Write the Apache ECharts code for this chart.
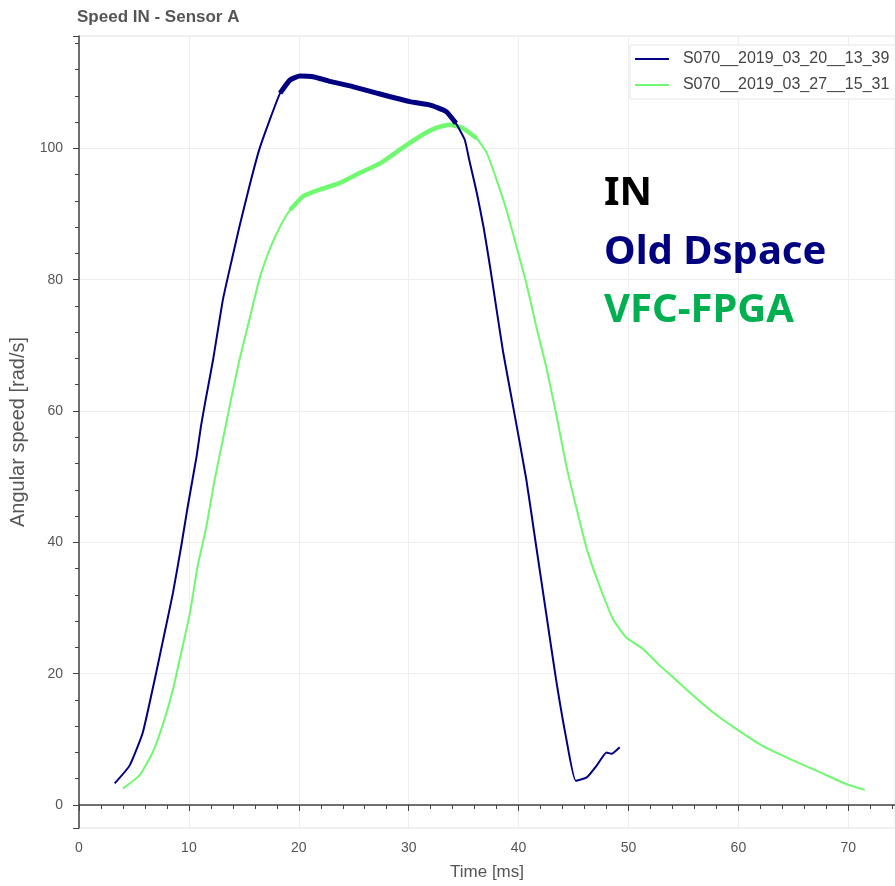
<!DOCTYPE html>
<html>
<head>
<meta charset="utf-8">
<title>Speed IN - Sensor A</title>
<script src="https://cdn.jsdelivr.net/npm/echarts@6/dist/echarts.min.js"></script>
<style>
  html, body { margin: 0; padding: 0; background: #fff; }
  #main { width: 895px; height: 886px; }
</style>
</head>
<body>
<div id="main"></div>
<script>
// Old Dspace run
var timeOld = [3.25, 4.6, 5.8, 6.9, 7.8, 8.55, 9.3, 9.9, 10.7, 11.1, 11.5, 12.2, 13.1, 13.9, 14.6,
  15.5, 16.4, 17.35, 18.3, 19.2, 20.1, 21.3, 22.8, 24.9, 27.1, 30.1, 31.9, 33.4, 34.3, 35.1, 35.5,
  36.2, 36.8, 37.4, 38.0, 38.6, 39.5, 40.7, 41.6, 42.5, 43.4, 44.35, 45.2, 46.2, 47.1, 48.0, 48.45, 49.2];
var speedOld = [3.3, 6.0, 11.0, 19.2, 26.3, 32.3, 39.4, 45.5, 53.1, 57.7, 61.5, 67.8, 77.0, 83.0, 88.1,
  94.2, 99.8, 104.3, 108.4, 110.4, 111.0, 110.9, 110.2, 109.4, 108.4, 107.1, 106.6, 105.6, 103.8, 101.3, 98.3,
  93.2, 88.1, 82.0, 75.4, 68.9, 60.7, 49.6, 39.4, 29.3, 19.2, 10.0, 3.7, 4.2, 6.0, 8.0, 7.8, 8.8];

// VFC-FPGA run
var timeNew = [4.0, 5.5, 6.7, 7.6, 8.55, 9.3, 10.1, 10.8, 11.6, 12.35, 13.1, 13.8, 14.6, 15.5, 16.4, 17.35,
  18.3, 19.2, 20.4, 21.9, 23.7, 25.5, 27.4, 29.2, 31.0, 32.5, 33.7, 34.9, 36.2, 37.1, 38.0, 38.9,
  39.8, 40.7, 41.6, 42.5, 43.4, 44.35, 45.25, 46.2, 47.4, 48.6, 49.8, 51.3, 52.8, 53.75, 55.6, 57.7,
  59.8, 62.2, 64.7, 67.4, 69.8, 71.5];
var speedNew = [2.5, 4.5, 8.0, 12.1, 17.6, 23.2, 29.3, 36.4, 42.5, 49.6, 55.7, 61.5, 67.8, 73.9, 80.0, 84.6,
  88.1, 90.6, 92.7, 93.7, 94.7, 96.2, 97.7, 99.8, 101.8, 103.1, 103.6, 103.1, 101.5, 99.3, 95.2, 90.6,
  85.1, 79.5, 72.9, 66.8, 59.7, 51.6, 45.3, 39.0, 33.2, 28.3, 25.5, 23.8, 21.3, 19.9, 17.1, 14.1,
  11.6, 9.0, 7.0, 5.0, 3.2, 2.3];

var seriesNames = ['S070__2019_03_20__13_39', 'S070__2019_03_27__15_31'];
var noteLines = ['IN', 'Old Dspace', 'VFC-FPGA'];

function pairs(xs, ys, lo, hi) {
  var out = [];
  for (var i = 0; i < xs.length; i++) {
    if (xs[i] >= lo && xs[i] <= hi) out.push([xs[i], ys[i]]);
  }
  return out;
}

var chart = echarts.init(document.getElementById('main'));

var axisGray = '#444';
var font = 'Liberation Sans, Arial, sans-serif';
var noteFont = 'bold 40px "Noto Sans", "DejaVu Sans", sans-serif';

var option = {
  animation: false,
  textStyle: { fontFamily: font },
  title: {
    text: 'Speed IN - Sensor A',
    left: 77,
    top: 9,
    padding: 0,
    textStyle: { fontSize: 17, fontWeight: 'bold', color: '#555', fontFamily: font }
  },
  grid: {
    left: 79,
    right: 0,
    top: 36,
    bottom: 57,
    show: true,
    borderColor: '#e5e5e5',
    backgroundColor: 'transparent'
  },
  legend: {
    data: seriesNames,
    orient: 'vertical',
    left: 630,
    top: 45,
    padding: [6, 12, 6, 5],
    icon: 'rect',
    itemWidth: 34,
    itemHeight: 2,
    itemGap: 10,
    formatter: '  {name}',
    backgroundColor: '#fff',
    borderColor: '#e5e5e5',
    borderWidth: 1,
    textStyle: { fontSize: 16, color: '#444', fontFamily: font, lineHeight: 16 }
  },
  xAxis: {
    type: 'value',
    min: 0,
    max: 74.25,
    interval: 10,
    name: 'Time [ms]',
    nameLocation: 'middle',
    nameGap: 36,
    nameTextStyle: { fontSize: 17, color: '#555', fontFamily: font },
    axisLine: { lineStyle: { color: axisGray, width: 1.5 } },
    axisTick: { length: 6, lineStyle: { color: axisGray } },
    minorTick: { show: true, splitNumber: 5, length: 4, lineStyle: { color: axisGray } },
    axisLabel: { fontSize: 14, color: '#555', margin: 13, showMaxLabel: false },
    splitLine: { show: true, lineStyle: { color: '#eeeeee' } }
  },
  yAxis: {
    type: 'value',
    min: -3.5,
    max: 117.1,
    splitNumber: 6,
    name: 'Angular speed [rad/s]',
    nameLocation: 'middle',
    nameGap: 50,
    nameTextStyle: { fontSize: 20, color: '#555', fontFamily: font },
    axisLine: { show: true, lineStyle: { color: axisGray, width: 1.5 } },
    axisTick: { show: true, length: 6, lineStyle: { color: axisGray } },
    minorTick: { show: true, splitNumber: 5, length: 4, lineStyle: { color: axisGray } },
    axisLabel: { fontSize: 14, color: '#555', margin: 16, showMinLabel: false, showMaxLabel: false },
    splitLine: { show: true, lineStyle: { color: '#eeeeee' } }
  },
  series: [
    {
      name: seriesNames[0],
      type: 'line',
      symbol: 'none',
      smooth: 0.15,
      data: pairs(timeOld, speedOld, 0, 100),
      lineStyle: { color: '#000080', width: 2 },
      itemStyle: { color: '#000080' },
      z: 3
    },
    {
      name: seriesNames[0],
      type: 'line',
      symbol: 'none',
      smooth: 0.15,
      data: pairs(timeOld, speedOld, 18.3, 34.3),
      lineStyle: { color: '#000080', width: 5 },
      itemStyle: { color: '#000080' },
      z: 3
    },
    {
      name: seriesNames[1],
      type: 'line',
      symbol: 'none',
      smooth: 0.15,
      data: pairs(timeNew, speedNew, 0, 100),
      lineStyle: { color: '#70f870', width: 2 },
      itemStyle: { color: '#70f870' },
      z: 2
    },
    {
      name: seriesNames[1],
      type: 'line',
      symbol: 'none',
      smooth: 0.15,
      data: pairs(timeNew, speedNew, 19.2, 36.2),
      lineStyle: { color: '#70f870', width: 4.5 },
      itemStyle: { color: '#70f870' },
      z: 2
    }
  ],
  graphic: [
    {
      type: 'text', left: 604, top: 174, z: 100,
      style: { text: noteLines[0], fill: '#000', font: noteFont }
    },
    {
      type: 'text', left: 604, top: 233, z: 100,
      style: { text: noteLines[1], fill: '#000080', font: noteFont }
    },
    {
      type: 'text', left: 604, top: 291, z: 100,
      style: { text: noteLines[2], fill: '#00b050', font: noteFont }
    }
  ]
};

chart.setOption(option);
</script>
</body>
</html>
